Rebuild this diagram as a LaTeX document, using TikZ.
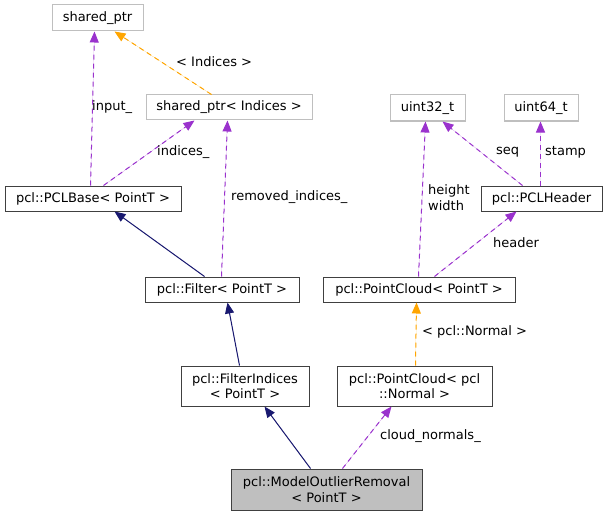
\documentclass[tikz,border=0pt]{standalone}
\usepackage{fontspec}
\setmainfont{DejaVu Sans}
\usetikzlibrary{arrows.meta,calc}
\definecolor{edgepurple}{HTML}{9A32CD}
\definecolor{edgeorange}{HTML}{FFA500}
\definecolor{edgenavy}{HTML}{191970}
\definecolor{extgray}{HTML}{BFBFBF}
\definecolor{boxline}{HTML}{404040}
\begin{document}
\begin{tikzpicture}[x=1pt,y=-1pt,
  every node/.style={font=\fontsize{13}{15.5}\selectfont, inner sep=0pt},
  cls/.style={draw=boxline, line width=1pt, rectangle, align=center},
  ext/.style={draw=extgray, line width=1pt, rectangle, align=center},
  main/.style={cls, fill=extgray},
  lbl/.style={anchor=west, align=left},
  tip/.style={-{Triangle[length=11pt,width=9pt]}},
  member/.style={tip, draw=edgepurple, fill=edgepurple, line width=1pt, dash pattern=on 5pt off 4pt},
  templ/.style={tip, draw=edgeorange, fill=edgeorange, line width=1pt, dash pattern=on 5pt off 4pt},
  inherit/.style={tip, draw=edgenavy, fill=edgenavy, line width=1pt},
]
\useasboundingbox (0,0) rectangle (607,516);
% nodes
\node[ext, minimum width=91pt, minimum height=26pt] (sp) at (97.5,18) {shared\_ptr};
\node[ext, minimum width=166pt, minimum height=25pt] (spi) at (229,107.5) {shared\_ptr< Indices >};
\node[ext, minimum width=75pt, minimum height=26pt] (u32) at (427.5,108) {uint32\_t};
\node[ext, minimum width=74pt, minimum height=26pt] (u64) at (541,108) {uint64\_t};
\node[cls, minimum width=121pt, minimum height=25pt] (hdr) at (541.5,198.5) {pcl::PCLHeader};
\node[cls, minimum width=176pt, minimum height=25pt] (base) at (93,198.5) {pcl::PCLBase< PointT >};
\node[cls, minimum width=154pt, minimum height=25pt] (filt) at (222,289.5) {pcl::Filter< PointT >};
\node[cls, minimum width=192pt, minimum height=25pt] (pc) at (419,289.5) {pcl::PointCloud< PointT >};
\node[cls, minimum width=128pt, minimum height=40pt] (fi) at (245,386) {pcl::FilterIndices\\< PointT >};
\node[cls, minimum width=155pt, minimum height=40pt] (pcn) at (414.5,386) {pcl::PointCloud< pcl\\::Normal >};
\node[main, minimum width=191pt, minimum height=41pt] (mor) at (326.5,489.5) {pcl::ModelOutlierRemoval\\< PointT >};
% edges
\draw[member] ($(base.north west)+(86,0)$) -- ($(sp.south west)+(43,0)$);
\draw[member] ($(base.north west)+(99,0)$) -- ($(spi.south west)+(49,0)$);
\draw[templ] ($(spi.north west)+(66,0)$) -- ($(sp.south west)+(63,0)$);
\draw[member] ($(filt.north west)+(77,0)$) -- ($(spi.south west)+(82,0)$);
\draw[inherit] ($(filt.north west)+(60,0)$) -- ($(base.south west)+(110,0)$);
\draw[inherit] ($(fi.north west)+(59,0)$) -- ($(filt.south west)+(83,0)$);
\draw[inherit] ($(mor.north west)+(80,0)$) -- ($(fi.south west)+(84,0)$);
\draw[member] ($(mor.north west)+(112,0)$) -- ($(pcn.south west)+(55,0)$);
\draw[templ] ($(pcn.north west)+(79,0)$) -- ($(pc.south west)+(94,0)$);
\draw[member] ($(pc.north west)+(96,0)$) -- ($(u32.south west)+(36,0)$);
\draw[member] ($(pc.north west)+(112,0)$) -- ($(hdr.south west)+(36,0)$);
\draw[member] ($(hdr.north west)+(42,0)$) -- ($(u32.south west)+(53,0)$);
\draw[member] ($(hdr.north west)+(60,0)$) -- ($(u64.south west)+(37,0)$);
% labels
\node[lbl] (l1) at (92,107) {input\_};
\node[lbl] (l2) at (176,62) {< Indices >};
\node[lbl] (l3) at (157,152) {indices\_};
\node[lbl] (l4) at (231,197) {removed\_indices\_};
\node[lbl] (l5) at (428,197.5) {height\\width};
\node[lbl] (l6) at (496,152) {seq};
\node[lbl] (l7) at (545,152) {stamp};
\node[lbl] (l8) at (493,243) {header};
\node[lbl] (l9) at (422,332) {< pcl::Normal >};
\node[lbl] (l10) at (380,436) {cloud\_normals\_};
\end{tikzpicture}
\end{document}
